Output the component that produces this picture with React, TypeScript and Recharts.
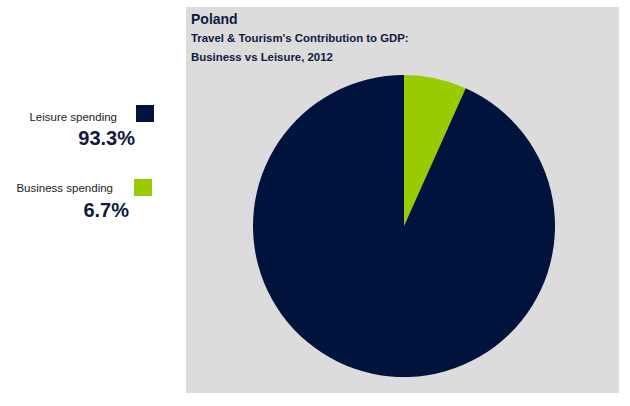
import { Cell, Pie, PieChart } from "recharts";

const segments = ["Business spending", "Leisure spending"];
const shares = [6.7, 93.3];
const colors = ["#99CC00", "#00133D"];

const data = segments.map((name, i) => ({ name, value: shares[i] }));

const font = "'Liberation Sans', Arial, sans-serif";
const ink = "#0F1A3C";

export default function App() {
  return (
    <div style={{ position: "absolute", left: 0, top: 0, width: 630, height: 406, background: "#fff", fontFamily: font }}>
      <div style={{ position: "absolute", left: 186, top: 7, width: 433, height: 386, background: "#DCDCDC" }} />
      <div style={{ position: "absolute", left: 0, top: 0 }}>
        <PieChart width={630} height={406} margin={{ top: 0, right: 0, bottom: 0, left: 0 }}>
          <Pie
            data={data}
            dataKey="value"
            cx={404}
            cy={226}
            outerRadius={151}
            startAngle={90}
            endAngle={-270}
            stroke="none"
            isAnimationActive={false}
          >
            {data.map((d, i) => <Cell key={d.name} fill={colors[i]} />)}
          </Pie>
        </PieChart>
      </div>
      <svg width={630} height={406} style={{ position: "absolute", left: 0, top: 0, pointerEvents: "none" }}>
        <text x={191} y={24} fontSize={14} fontWeight="bold" fill={ink}>Poland</text>
        <text x={191} y={42} fontSize={11.4} fontWeight="bold" fill={ink}>Travel &amp; Tourism's Contribution to GDP:</text>
        <text x={191} y={61} fontSize={11.4} fontWeight="bold" fill={ink}>Business vs Leisure, 2012</text>

        <text x={117} y={121} fontSize={11.5} textAnchor="end" fill="#222">{segments[1]}</text>
        <rect x={136} y={105} width={18} height={17} fill={colors[1]} />
        <text x={135} y={145} fontSize={20} fontWeight="bold" textAnchor="end" fill={ink}>{shares[1].toFixed(1)}%</text>

        <text x={113} y={192} fontSize={11.5} textAnchor="end" fill="#222">{segments[0]}</text>
        <rect x={134} y={179} width={18} height={17} fill={colors[0]} />
        <text x={129} y={217} fontSize={20} fontWeight="bold" textAnchor="end" fill={ink}>{shares[0].toFixed(1)}%</text>
      </svg>
    </div>
  );
}
